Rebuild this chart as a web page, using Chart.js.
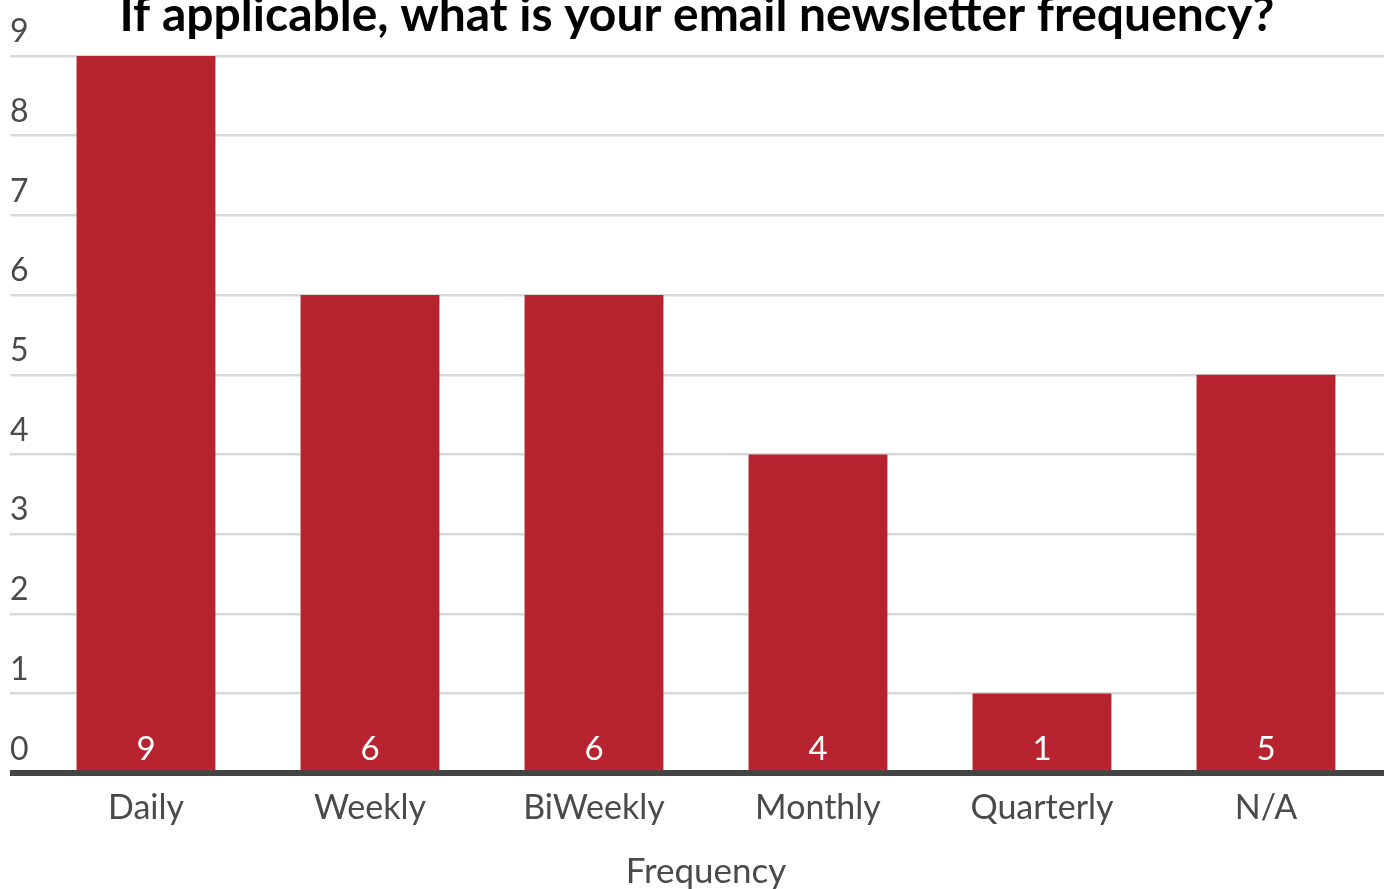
<!DOCTYPE html>
<html>
<head>
<meta charset="utf-8">
<title>Newsletter frequency</title>
<script src="https://cdn.jsdelivr.net/npm/chart.js"></script>
<style>
  html, body { margin: 0; padding: 0; background: #fff; }
  #wrap { width: 1391px; height: 889px; }
</style>
</head>
<body>
<div id="wrap"><canvas id="chart"></canvas></div>
<script>
const categories = ['Daily', 'Weekly', 'BiWeekly', 'Monthly', 'Quarterly', 'N/A'];
const counts = [9, 6, 6, 4, 1, 5];
const yMin = 0;
const yMax = 9;

const FONT = 'Lato, "Noto Sans", sans-serif';
const TEXT = '#4a4a4a';
const GRID = '#d9d9d9';
const BASE = '#444444';

// white count printed at the foot of every bar
const barLabels = {
  id: 'barLabels',
  afterDatasetsDraw(chart) {
    const ctx = chart.ctx;
    const meta = chart.getDatasetMeta(0);
    const base = chart.scales.y.getPixelForValue(0);
    ctx.save();
    ctx.fillStyle = '#fff';
    ctx.font = '33px ' + FONT;
    ctx.textAlign = 'center';
    ctx.textBaseline = 'middle';
    meta.data.forEach((bar, i) => {
      ctx.fillText(String(counts[i]), bar.x, base - 24);
    });
    ctx.restore();
  }
};

// zero line is the dark baseline, the rest light grey
const lineColor = c => (c.tick && c.tick.value === 0 ? BASE : GRID);
const lineWidth = c => (c.tick && c.tick.value === 0 ? 6 : 2.5);

new Chart(document.getElementById('chart'), {
  type: 'bar',
  data: {
    labels: categories,
    datasets: [{
      data: counts,
      backgroundColor: '#b7232e',
      borderWidth: 0,
      barPercentage: 1,
      categoryPercentage: 0.62
    }]
  },
  options: {
    responsive: true,
    maintainAspectRatio: false,
    animation: false,
    layout: { padding: { left: 10, right: 7, top: 0, bottom: 0 } },
    plugins: {
      legend: { display: false },
      tooltip: { enabled: false },
      title: {
        display: true,
        text: 'If applicable, what is your email newsletter frequency?',
        color: '#000',
        font: { family: FONT, size: 48, weight: 'bold' },
        padding: { top: -13, bottom: 11.4 }
      }
    },
    scales: {
      x: {
        grid: { display: false, drawTicks: false },
        border: { display: false },
        ticks: { color: TEXT, font: { family: FONT, size: 34 }, padding: 14 },
        title: {
          display: true,
          text: 'Frequency',
          color: TEXT,
          font: { family: FONT, size: 35 },
          padding: { top: 9, bottom: -4 }
        }
      },
      y: {
        min: yMin,
        max: yMax,
        border: { display: false },
        grid: { color: lineColor, tickColor: lineColor, lineWidth: lineWidth, tickLength: 24 },
        ticks: {
          stepSize: 1,
          mirror: true,
          padding: -24,
          labelOffset: -24,
          color: TEXT,
          font: { family: FONT, size: 32 }
        },
        // labels sit over the grid lines, the axis itself is just the tick stubs
        afterFit(scale) { scale.width = 24; }
      },
      y2: {
        position: 'right',
        min: yMin,
        max: yMax,
        border: { display: false },
        grid: { drawOnChartArea: false, tickColor: lineColor, lineWidth: lineWidth, tickLength: 6 },
        ticks: { stepSize: 1, display: false },
        afterFit(scale) { scale.width = 6; }
      }
    }
  },
  plugins: [barLabels]
});
</script>
</body>
</html>
